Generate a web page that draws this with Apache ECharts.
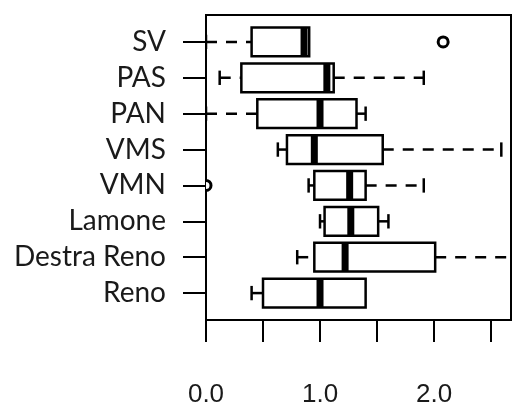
<!DOCTYPE html>
<html>
<head>
<meta charset="utf-8">
<script src="https://cdn.jsdelivr.net/npm/echarts@6/dist/echarts.min.js"></script>
<style>html,body{margin:0;padding:0;background:#fff}#c{width:512px;height:405px}</style>
</head>
<body>
<div id="c"></div>
<script>
// bottom to top
var categories = ['Reno', 'Destra Reno', 'Lamone', 'VMN', 'VMS', 'PAN', 'PAS', 'SV'];
var lowerWhisker = [0.40, 0.80, 1.00, 0.90, 0.63, 0.00, 0.12, 0.00];
var q1Values     = [0.50, 0.95, 1.04, 0.95, 0.71, 0.45, 0.31, 0.40];
var medianValues = [1.00, 1.22, 1.27, 1.26, 0.95, 1.00, 1.06, 0.86];
var q3Values     = [1.40, 2.01, 1.51, 1.40, 1.55, 1.32, 1.12, 0.905];
var upperWhisker = [1.40, 2.90, 1.60, 1.91, 2.59, 1.40, 1.91, 0.905];
var outlierCats  = ['VMN', 'SV'];
var outlierVals  = [0.00, 2.08];
var xTicks = [0, 0.5, 1, 1.5, 2, 2.5];
var xLabels = [0, 1, 2];

var boxData = categories.map(function (c, i) {
  return [i + 1, lowerWhisker[i], q1Values[i], medianValues[i], q3Values[i], upperWhisker[i]];
});
var outlierData = outlierCats.map(function (c, i) {
  return [outlierVals[i], categories.indexOf(c) + 1];
});

var chart = echarts.init(document.getElementById('c'), null, {renderer: 'canvas'});

function renderBox(params, api) {
  var y = api.value(0);
  var lo = api.value(1), q1 = api.value(2), md = api.value(3), q3 = api.value(4), hi = api.value(5);
  var h = api.size([0, 0.8])[1];
  var cap = h * 0.5;
  var pLo = api.coord([lo, y]), pQ1 = api.coord([q1, y]), pMd = api.coord([md, y]),
      pQ3 = api.coord([q3, y]), pHi = api.coord([hi, y]);
  var cy = pQ1[1];
  var dashStyle = {stroke: '#000', lineWidth: 2.5, lineDash: [11, 9], fill: null};
  var solid = {stroke: '#000', lineWidth: 2.5, fill: null};
  var ch = [];
  if (lo < q1) {
    ch.push({type: 'line', shape: {x1: pLo[0], y1: cy, x2: pQ1[0], y2: cy}, style: dashStyle});
    ch.push({type: 'line', shape: {x1: pLo[0], y1: cy - cap / 2, x2: pLo[0], y2: cy + cap / 2}, style: solid});
  }
  if (hi > q3) {
    ch.push({type: 'line', shape: {x1: pQ3[0], y1: cy, x2: pHi[0], y2: cy}, style: dashStyle});
    ch.push({type: 'line', shape: {x1: pHi[0], y1: cy - cap / 2, x2: pHi[0], y2: cy + cap / 2}, style: solid});
  }
  ch.push({type: 'rect', shape: {x: pQ1[0], y: cy - h / 2, width: pQ3[0] - pQ1[0], height: h},
    style: {fill: '#fff', stroke: '#000', lineWidth: 2.5}});
  ch.push({type: 'line', shape: {x1: pMd[0], y1: cy - h / 2, x2: pMd[0], y2: cy + h / 2},
    style: {stroke: '#000', lineWidth: 7}});
  return {type: 'group', children: ch};
}

function renderOutlier(params, api) {
  var p = api.coord([api.value(0), api.value(1)]);
  return {type: 'circle', shape: {cx: p[0], cy: p[1], r: 5},
    style: {fill: '#fff', stroke: '#000', lineWidth: 3}};
}

chart.setOption({
  animation: false,
  backgroundColor: '#fff',
  grid: {left: 206, top: 15, right: 1, bottom: 85, show: true, borderColor: '#000', borderWidth: 2,
         backgroundColor: 'transparent', outerBoundsMode: 'none', containLabel: false},
  xAxis: {
    type: 'value', min: 0, max: 2.675, interval: 0.5,
    splitLine: {show: false},
    axisLine: {show: true, lineStyle: {color: '#000', width: 2}},
    axisTick: {show: true, length: 22, customValues: xTicks, lineStyle: {color: '#000', width: 2}},
    axisLabel: {
      customValues: xLabels, margin: 62, color: '#1a1a1a',
      fontFamily: 'Liberation Sans, Arial, sans-serif', fontSize: 26,
      formatter: function (v) { return v.toFixed(1); }
    }
  },
  yAxis: {
    type: 'value', min: 0.25, max: 8.75,
    splitLine: {show: false},
    axisLine: {show: true, lineStyle: {color: '#000', width: 2}},
    axisTick: {show: true, length: 23, customValues: [1, 2, 3, 4, 5, 6, 7, 8], lineStyle: {color: '#000', width: 2}},
    axisLabel: {
      customValues: [1, 2, 3, 4, 5, 6, 7, 8], margin: 40, color: '#1a1a1a',
      fontFamily: 'Lato, sans-serif', fontSize: 28,
      formatter: function (v) { return categories[Math.round(v) - 1]; }
    }
  },
  series: [
    {type: 'custom', renderItem: renderBox, data: boxData, clip: true,
     encode: {x: [1, 2, 3, 4, 5], y: 0}},
    {type: 'custom', renderItem: renderOutlier, data: outlierData, clip: true,
     encode: {x: 0, y: 1}, z: 3}
  ]
});
</script>
</body>
</html>
